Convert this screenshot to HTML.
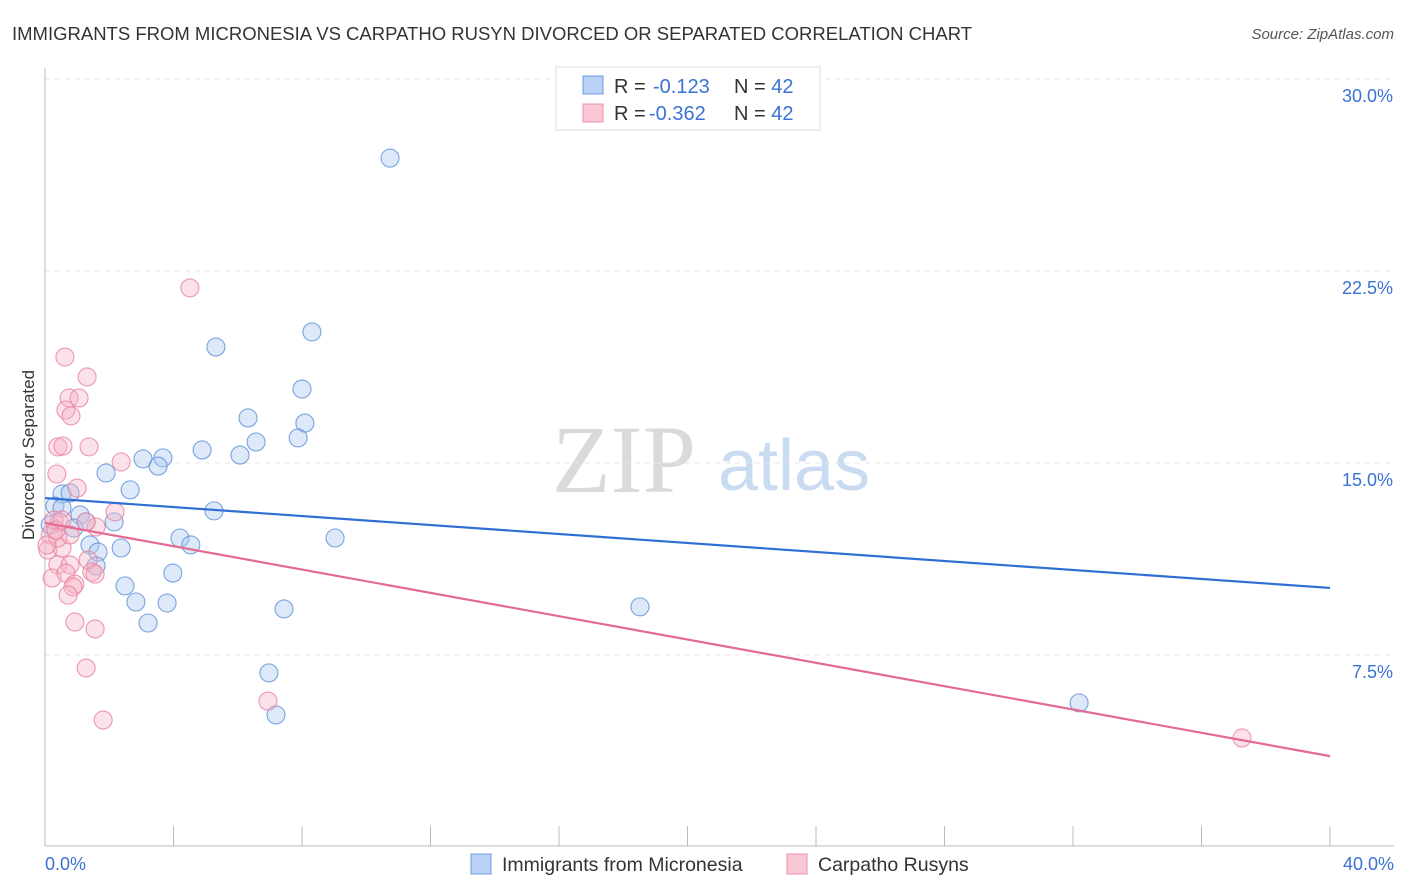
<!DOCTYPE html>
<html><head><meta charset="utf-8"><style>
body{margin:0;background:#fff;font-family:"Liberation Sans",sans-serif}
svg{display:block}
</style></head><body>
<svg id="chart" width="1406" height="892">
<text x="12" y="40" font-size="18.5" fill="#333">IMMIGRANTS FROM MICRONESIA VS CARPATHO RUSYN DIVORCED OR SEPARATED CORRELATION CHART</text>
<text x="1394" y="39" font-size="15" fill="#555" font-style="italic" text-anchor="end">Source: ZipAtlas.com</text>
<g>
<text x="552" y="492" font-size="96" font-family="Liberation Serif" fill="#dadada">ZIP</text>
<text x="718" y="490" font-size="72" fill="#c9dbf1">atlas</text>
</g>
<g id="grid"></g>
<line x1="45" y1="68" x2="45" y2="846" stroke="#bbb"/>
<line x1="45" y1="846" x2="1394" y2="846" stroke="#bbb"/>
<text transform="translate(34,455) rotate(-90)" font-size="17" fill="#333" text-anchor="middle">Divorced or Separated</text>
<text x="45" y="870" font-size="18" fill="#3a72d4">0.0%</text>
<text x="1394" y="870" font-size="18" fill="#3a72d4" text-anchor="end">40.0%</text>
<g id="marks"></g>
<g>
<rect x="556" y="67" width="264" height="63" fill="#fff" stroke="#ddd"/>
<rect x="583" y="76" width="20" height="18" fill="#b9d1f4" stroke="#6b9be0"/>
<rect x="583" y="104" width="20" height="18" fill="#f9c6d4" stroke="#ec8fab"/>
<text x="614" y="93" font-size="20" fill="#333">R = <tspan x="653" fill="#3a72d4">-0.123</tspan><tspan x="734">N = </tspan><tspan fill="#3a72d4">42</tspan></text>
<text x="614" y="120" font-size="20" fill="#333">R = <tspan x="649" fill="#3a72d4">-0.362</tspan><tspan x="734">N = </tspan><tspan fill="#3a72d4">42</tspan></text>
</g>
<g>
<rect x="471" y="854" width="20" height="20" fill="#b9d1f4" stroke="#6b9be0"/>
<text x="502" y="871" font-size="19.5" fill="#333">Immigrants from Micronesia</text>
<rect x="787" y="854" width="20" height="20" fill="#f9c6d4" stroke="#ec8fab"/>
<text x="818" y="871" font-size="19.5" fill="#333">Carpatho Rusyns</text>
</g>
</svg>
<script>
const yTicks=[7.5,15,22.5,30];
const yTickLabels=["7.5%","15.0%","22.5%","30.0%"];
const xTicks=[0,4,8,12,16,20,24,28,32,36,40];
const blueX=[10.74,8.31,5.32,8.0,6.32,8.09,6.57,7.88,6.07,3.05,3.67,3.52,4.89,1.90,2.65,0.53,0.78,0.31,0.53,1.09,2.15,0.90,1.28,5.26,4.20,4.54,9.03,1.40,2.37,1.65,1.59,2.49,3.98,2.83,3.80,3.21,7.44,18.52,6.97,7.19,32.19,0.16];
const blueY=[26.91,20.12,19.53,17.89,16.76,16.56,15.82,15.98,15.31,15.16,15.2,14.88,15.51,14.61,13.95,13.79,13.83,13.32,13.24,12.97,12.70,12.46,12.70,13.13,12.07,11.80,12.07,11.80,11.68,11.52,10.98,10.20,10.70,9.57,9.53,8.75,9.30,9.38,6.80,5.16,5.63,12.58];
const pinkX=[4.51,0.62,1.31,0.75,1.06,0.65,0.81,0.40,0.56,1.37,2.37,0.37,1.00,2.18,0.44,0.16,0.09,0.53,1.59,0.28,0.40,0.78,1.34,0.40,0.22,0.78,0.65,1.46,1.56,0.93,0.87,0.72,0.93,1.56,1.28,6.94,1.81,37.26,0.06,0.34,1.28,0.53];
const pinkY=[21.84,19.14,18.36,17.54,17.54,17.07,16.84,15.63,15.66,15.63,15.04,14.57,14.02,13.09,12.70,12.19,11.60,11.68,12.50,12.77,12.07,12.19,11.21,11.02,10.51,11.02,10.70,10.74,10.66,10.27,10.16,9.84,8.79,8.52,6.99,5.70,4.96,4.26,11.80,12.38,12.70,12.77];
const blueTrend=[13.63,10.12];
const pinkTrend=[12.66,3.55];
const NS="http://www.w3.org/2000/svg";
const xS=v=>45+v*32.125;
const yS=v=>847-v*25.6;
const grid=document.getElementById('grid');
const marks=document.getElementById('marks');
function mk(tag,attrs,parent){const e=document.createElementNS(NS,tag);for(const k in attrs)e.setAttribute(k,attrs[k]);parent.appendChild(e);return e;}
yTicks.forEach((t,i)=>{
 const l=mk('line',{x1:45,x2:1394,y1:yS(t),y2:yS(t),stroke:'#e6e6e6','stroke-dasharray':'5,5'},grid);
 
 
 const tx=mk('text',{x:1393,y:yS(t)+23,'font-size':18,fill:'#3a72d4','text-anchor':'end'},grid);
 tx.textContent=yTickLabels[i];
 
 
});
xTicks.forEach(t=>{
 const l=mk('line',{x1:xS(t),x2:xS(t),y1:826,y2:846,stroke:'#bbb'},grid);
 
 
});
function pts(xs,ys,fill,stroke,name){
 xs.forEach((x,i)=>{
  const c=mk('circle',{cx:xS(x),cy:yS(ys[i]),r:9,fill:fill,'fill-opacity':0.4,stroke:stroke,'stroke-opacity':0.8,'stroke-width':1.1},marks);
  
  
 });
}
pts(blueX,blueY,'#a9c8f0','#5b8fd9','point-micronesia');
pts(pinkX,pinkY,'#f5b3c6','#e87fa0','point-rusyn');
const bl=mk('line',{x1:xS(0),y1:yS(blueTrend[0]),x2:xS(40),y2:yS(blueTrend[1]),stroke:'#2f6fd4','stroke-width':2.2},marks);


const pl=mk('line',{x1:xS(0),y1:yS(pinkTrend[0]),x2:xS(40),y2:yS(pinkTrend[1]),stroke:'#e46a95','stroke-width':2.2},marks);


</script>
</body></html>
